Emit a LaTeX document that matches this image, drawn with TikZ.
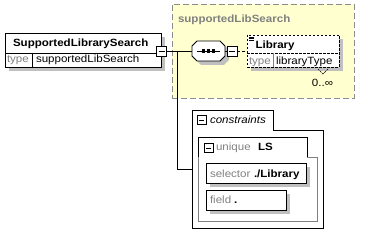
\documentclass[tikz,border=0pt]{standalone}
\usepackage{fontspec}
\setmainfont[FakeStretch=1.1]{Liberation Sans}
\definecolor{shadowgrey}{RGB}{192,192,192}
\definecolor{labelgrey}{RGB}{128,128,128}
\definecolor{typebg}{RGB}{255,255,208}
\definecolor{typeborder}{RGB}{140,140,140}
\begin{document}
\begin{tikzpicture}[x=1pt,y=-1pt,
  every node/.style={inner sep=0pt,outer sep=0pt},
  elbox/.style={draw=black,fill=white,line width=0.9pt,anchor=north west},
  shadowbox/.style={fill=shadowgrey,draw=none,anchor=north west},
  minusbox/.style={draw=black,fill=white,line width=0.8pt,minimum width=10pt,minimum height=10pt,
    path picture={\draw[line width=0.8pt] ([xshift=2pt]path picture bounding box.west) -- ([xshift=-2pt]path picture bounding box.east);}},
  namefont/.style={font=\bfseries\fontsize{10.5}{12}\selectfont,anchor=base west},
  lbl/.style={text=labelgrey,font=\fontsize{10.5}{12}\selectfont,anchor=base west},
  val/.style={font=\fontsize{10.5}{12}\selectfont,anchor=base west},
  conn/.style={line width=0.8pt}]
\useasboundingbox (0,0) rectangle (373,246);

% complex type area
\node[fill=typebg,draw=typeborder,dash pattern=on 6pt off 3pt,line width=0.8pt,
  minimum width=182pt,minimum height=94pt,anchor=north west] (ctype) at (172,4) {};
\node[text=labelgrey,namefont] (ctypename) at (178,23) {supportedLibSearch};

% global element
\node[shadowbox,minimum width=156pt,minimum height=34pt] (mainshadow) at (9,37) {};
\node[elbox,minimum width=156pt,minimum height=34pt] (main) at (5,33) {};
\draw[line width=0.8pt] (5,53) -- (161,53);
\draw[line width=0.8pt] (32,53) -- (32,67);
\node[namefont] (mainname) at (13,47) {SupportedLibrarySearch};
\node[lbl] (maintype) at (7,63) {type};
\node[val] (maintypeval) at (36,63) {supportedLibSearch};
\node[minusbox] (mminus) at (161.5,51) {};

% sequence compositor (octagon)
\node[minimum width=33pt,minimum height=20pt] (seq) at (208.5,51) {};
\fill[shadowgrey] (201,45) -- (224,45) -- (229,50) -- (229,60) -- (224,65) -- (201,65) -- (196,60) -- (196,50) -- cycle;
\draw[line width=0.9pt,fill=white] (197,41) -- (220,41) -- (225,46) -- (225,56) -- (220,61) -- (197,61) -- (192,56) -- (192,46) -- cycle;
\draw[line width=0.8pt] (197,51) -- (220,51);
\foreach \dx in {-5,0,5}
  \fill ([xshift=\dx pt]seq.center) +(-1.6,-1.6) rectangle +(1.6,1.6);
\node[minusbox] (sminus) at (232,51) {};

% child element Library
\node[shadowbox,minimum width=92pt,minimum height=32pt] (libshadow) at (251,39) {};
\node[elbox,dash pattern=on 2.5pt off 1.5pt,minimum width=92pt,minimum height=32pt] (lib) at (247,35) {};
\draw[dash pattern=on 2.5pt off 1.5pt,line width=0.8pt] (247,53) -- (339,53);
\draw[line width=0.6pt,labelgrey] (273,53) -- (273,67);
\draw[line width=0.6pt] (249,37) -- (254,37) (249,38.8) -- (254,38.8) (249,40.6) -- (254,40.6);
\node[namefont] (libname) at (255.5,48.5) {Library};
\node[lbl] (libtype) at (249,64.5) {type};
\node[val] (libtypeval) at (276,64.5) {libraryType};
\draw[dash pattern=on 2pt off 1pt,line width=0.6pt] (318,69) -- (323,74) -- (328,69);
\node[val,anchor=base east] (libocc) at (333,87) {0..∞};

% identity constraints
\draw[line width=0.9pt] (192,110) -- (273,110) -- (273,130) -- (323,130) -- (323,228) -- (192,228) -- cycle;
\node[minusbox,minimum width=9pt,minimum height=9pt] (cminus) at (201.5,120) {};
\node[val,font=\itshape\fontsize{10.5}{12}\selectfont] (cname) at (210,124) {constraints};
\draw[line width=0.8pt,labelgrey] (307,157) -- (317,157) -- (317,221) -- (198,221) -- (198,157);
\draw[line width=0.9pt] (198,157) -- (198,137) -- (307,137) -- (307,157);
\node[minusbox,minimum width=9pt,minimum height=9pt] (uminus) at (208.5,148) {};
\node[lbl] (ukind) at (216,151) {unique};
\node[namefont] (uname) at (258,151) {LS};

\node[shadowbox,minimum width=100pt,minimum height=20pt] (selshadow) at (210,167) {};
\node[elbox,minimum width=100pt,minimum height=20pt] (sel) at (206,163) {};
\node[lbl] (sellbl) at (210,178) {selector};
\node[namefont] (selval) at (254,178) {./Library};

\node[shadowbox,minimum width=80pt,minimum height=20pt] (fldshadow) at (210,194) {};
\node[elbox,minimum width=80pt,minimum height=20pt] (fld) at (206,190) {};
\node[lbl] (fldlbl) at (210,204) {field};
\node[namefont] (fldval) at (234,204) {.};

% connectors
\coordinate (branch) at (177,51);
\coordinate (consjoin) at (192,169);
\draw[conn] (mminus.east) -- (seq.west);
\draw[conn] (branch) |- (consjoin);
\draw[conn] (seq.east) -- (sminus.west);
\draw[conn,dash pattern=on 3pt off 2pt] (sminus.east) -- (lib.west |- sminus.east);
\end{tikzpicture}
\end{document}
